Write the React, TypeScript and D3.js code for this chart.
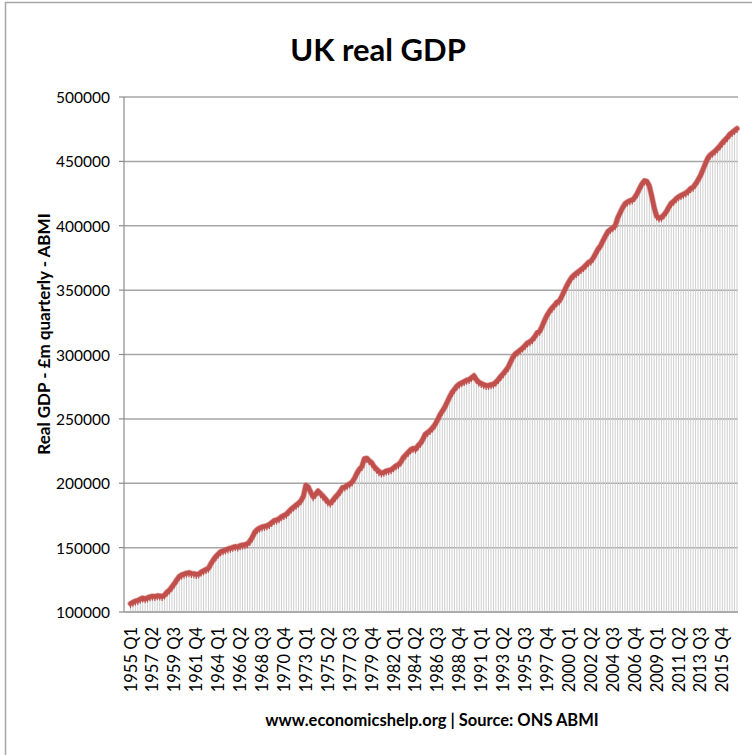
import React from "react";
import * as d3 from "d3";

// UK real GDP, £m per quarter (ABMI), 1955 Q1 – 2017 Q2
const gdpValues: number[] = [
  // 1955
  106500, 107500, 108500, 109000,
  // 1956
  110000, 110800, 110200, 111000,
  // 1957
  111800, 112300, 112000, 112600,
  // 1958
  112500, 112000, 113200, 115500,
  // 1959
  117000, 119500, 122000, 125000,
  // 1960
  127500, 128800, 129500, 130200,
  // 1961
  130500, 130000, 129800, 129200,
  // 1962
  129500, 131000, 132000, 133000,
  // 1963
  134000, 137500, 140500, 143000,
  // 1964
  145000, 146800, 147500, 148200,
  // 1965
  149000, 149500, 150200, 150800,
  // 1966
  150500, 151500, 152000, 152300,
  // 1967
  153000, 155000, 158000, 162000,
  // 1968
  164000, 165200, 166000, 166500,
  // 1969
  167000, 168000, 169500, 171000,
  // 1970
  171500, 172500, 174000, 175000,
  // 1971
  176000, 178000, 180000, 181500,
  // 1972
  183000, 184500, 186500, 190000,
  // 1973
  198500, 197000, 193000, 189500,
  // 1974
  191500, 194000, 192000, 190000,
  // 1975
  188000, 185500, 184500, 186500,
  // 1976
  189000, 191000, 193500, 196500,
  // 1977
  197000, 198500, 199500, 201000,
  // 1978
  204000, 208000, 211000, 213000,
  // 1979
  219000, 219500, 217500, 216000,
  // 1980
  213000, 211000, 209000, 208000,
  // 1981
  208500, 209500, 210000, 210500,
  // 1982
  212000, 213500, 214500, 216500,
  // 1983
  220000, 222000, 224000, 226000,
  // 1984
  227000, 226500, 229000, 231000,
  // 1985
  234000, 238000, 239500, 241000,
  // 1986
  243000, 245500, 249000, 253000,
  // 1987
  256000, 259000, 263000, 267000,
  // 1988
  270500, 273000, 275500, 277000,
  // 1989
  278000, 279000, 280000, 280500,
  // 1990
  282000, 283500, 280500, 278500,
  // 1991
  277500, 276500, 276000, 276000,
  // 1992
  276500, 277000, 278500, 280500,
  // 1993
  283000, 285000, 287500, 290000,
  // 1994
  294000, 298000, 300500, 302000,
  // 1995
  303500, 305000, 307000, 309000,
  // 1996
  310000, 311500, 314000, 317000,
  // 1997
  318000, 322000, 326500, 330500,
  // 1998
  333500, 336000, 338000, 340500,
  // 1999
  341500, 345000, 349000, 353000,
  // 2000
  356500, 359500, 361500, 363000,
  // 2001
  364500, 366000, 367500, 369500,
  // 2002
  371500, 372500, 375000, 378500,
  // 2003
  382000, 384500, 388500, 392000,
  // 2004
  395500, 397000, 398500, 400000,
  // 2005
  406000, 410000, 414000, 417000,
  // 2006
  418500, 419500, 420000, 422000,
  // 2007
  425000, 429000, 432500, 435000,
  // 2008
  434500, 431000, 423000, 414000,
  // 2009
  407500, 406000, 406500, 408500,
  // 2010
  411000, 414500, 417500, 419000,
  // 2011
  421000, 422500, 423500, 424500,
  // 2012
  425500, 427000, 429000, 430000,
  // 2013
  432500, 435500, 439000, 443500,
  // 2014
  448000, 452500, 455000, 456500,
  // 2015
  458000, 460000, 462000, 464500,
  // 2016
  466500, 468500, 471000, 472500,
  // 2017
  474000, 475500,
];

const startYear = 1955;
const quarterLabels: string[] = gdpValues.map(
  (_, i) => `${startYear + Math.floor(i / 4)} Q${(i % 4) + 1}`
);
const yTicks: number[] = [100000, 150000, 200000, 250000, 300000, 350000, 400000, 450000, 500000];
const labelEvery = 9;

const titleText = "UK real GDP";
const yAxisTitle = "Real GDP - £m quarterly - ABMI";
const footerText = "www.economicshelp.org | Source: ONS ABMI";

const FONT = "Lato, 'Open Sans', sans-serif";

export default function App() {
  const W = 752;
  const H = 755;
  const plotLeft = 124;
  const plotRight = 738;
  const plotTop = 97;
  const plotBottom = 612;

  const x = d3.scaleLinear().domain([0, gdpValues.length - 1]).range([130.5, 737]);
  const y = d3.scaleLinear().domain([100000, 500000]).range([plotBottom, plotTop]);

  const line = d3
    .line<number>()
    .x((_, i) => x(i))
    .y((d) => y(d))
    .curve(d3.curveLinear);

  return (
    <svg
      width={W}
      height={H}
      style={{ position: "absolute", left: 0, top: 0, background: "#fff" }}
      fontFamily={FONT}
    >
      <rect x={0} y={0} width={W} height={H} fill="#fff" />
      {/* outer frame */}
      <rect x={5.5} y={2.5} width={W + 20} height={H + 20} fill="none" stroke="#a6a6a6" strokeWidth={1.5} />

      {/* title */}
      <text x={378} y={61} textAnchor="middle" fontSize={31} fontWeight={700} fill="#000">
        {titleText}
      </text>

      {/* gridlines */}
      {yTicks.map((t) => (
        <line
          key={"g" + t}
          x1={plotLeft}
          x2={plotRight}
          y1={y(t)}
          y2={y(t)}
          stroke="#a6a6a6"
          strokeWidth={1.5}
        />
      ))}

      {/* drop lines */}
      {gdpValues.map((v, i) => (
        <line
          key={"d" + i}
          x1={x(i)}
          x2={x(i)}
          y1={y(v)}
          y2={plotBottom}
          stroke="#cfcfcf"
          strokeWidth={1}
        />
      ))}

      {/* y axis */}
      <line x1={plotLeft} x2={plotLeft} y1={plotTop} y2={plotBottom} stroke="#8c8c8c" strokeWidth={1.2} />
      {yTicks.map((t) => (
        <g key={"t" + t}>
          <line x1={plotLeft - 5} x2={plotLeft} y1={y(t)} y2={y(t)} stroke="#8c8c8c" strokeWidth={1.2} />
          <text x={110} y={y(t)} textAnchor="end" dominantBaseline="central" fontSize={15.5} fill="#000">
            {t}
          </text>
        </g>
      ))}
      {/* x axis */}
      <line x1={plotLeft} x2={plotRight} y1={plotBottom} y2={plotBottom} stroke="#a6a6a6" strokeWidth={1.5} />

      {/* series */}
      <path d={line(gdpValues) || ""} fill="none" stroke="#d0706d" strokeWidth={6} strokeLinejoin="round" strokeLinecap="round" opacity={0.6} />
      <path d={line(gdpValues) || ""} fill="none" stroke="#c0504d" strokeWidth={4.5} strokeLinejoin="round" strokeLinecap="round" />
      {gdpValues.map((v, i) => (
        <line
          key={"m" + i}
          x1={x(i)}
          x2={x(i)}
          y1={y(v) - 2}
          y2={y(v) + 4.5}
          stroke="#c0504d"
          strokeWidth={1.2}
        />
      ))}

      {/* x labels */}
      {quarterLabels.map((lab, i) =>
        i % labelEvery === 0 ? (
          <text
            key={"x" + i}
            transform={`translate(${x(i)},627) rotate(-90)`}
            textAnchor="end"
            dominantBaseline="central"
            fontSize={16.5}
            fill="#000"
          >
            {lab}
          </text>
        ) : null
      )}

      {/* y axis title */}
      <text
        transform="translate(43,334) rotate(-90)"
        textAnchor="middle"
        dominantBaseline="central"
        fontSize={17}
        fontWeight={700}
        fill="#000"
      >
        {yAxisTitle}
      </text>

      {/* footer */}
      <text x={432} y={720} textAnchor="middle" dominantBaseline="central" fontSize={16.5} fontWeight={700} fill="#000">
        {footerText}
      </text>
    </svg>
  );
}
